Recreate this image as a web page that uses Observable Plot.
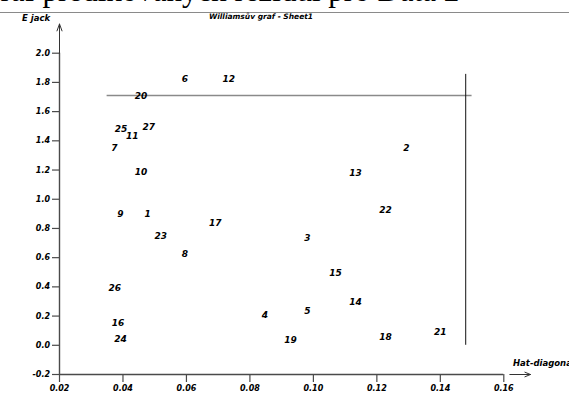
<!DOCTYPE html>
<html>
<head>
<meta charset="utf-8">
<script src="https://cdn.jsdelivr.net/npm/d3@7"></script>
<script src="https://cdn.jsdelivr.net/npm/@observablehq/plot@0.6"></script>
<style>
  html, body { margin: 0; padding: 0; background: white; }
  #wrap { position: relative; width: 569px; height: 394px; overflow: hidden; background: white; }
  #wrap svg { position: absolute; left: 0; top: 0; }
  .lab { position: absolute; font-family: "DejaVu Sans", sans-serif; font-weight: bold; font-style: italic; white-space: nowrap; color: black; line-height: 1; }
  #bigtitle { position: absolute; left: -22px; top: -25px; font-family: "Liberation Serif", "Times New Roman", serif; font-size: 31px; line-height: 31px; white-space: nowrap; color: black; }
  #topline { position: absolute; left: 0; top: 11.5px; width: 569px; height: 1px; background: #8a8a8a; }
</style>
</head>
<body>
<div id="wrap"></div>
<script>
// Point ids and values (Hat-diagonal, E jack)
const ids = [1,2,3,4,5,6,7,8,9,10,11,12,13,14,15,16,17,18,19,20,21,22,23,24,25,26,27];
const hat = [0.0478,0.1293,0.0981,0.0847,0.0981,0.0595,0.0373,0.0595,0.0392,0.0457,0.0429,0.0733,0.1133,0.1133,0.1070,0.0384,0.0691,0.1227,0.0928,0.0457,0.1400,0.1227,0.0519,0.0392,0.0394,0.0374,0.0481];
const ejack = [0.896,1.353,0.733,0.207,0.232,1.824,1.353,0.623,0.900,1.187,1.435,1.824,1.180,0.293,0.494,0.155,0.837,0.055,0.034,1.705,0.093,0.926,0.748,0.039,1.480,0.389,1.497];
// Axis ticks
const xTicks = [0.02,0.04,0.06,0.08,0.10,0.12,0.14,0.16];
const yTicks = [-0.2,0.0,0.2,0.4,0.6,0.8,1.0,1.2,1.4,1.6,1.8,2.0];
// Critical limits
const tLimit = [{y: 1.71, x1: 0.035, x2: 0.150}];
const hLimit = [{x: 0.148, y1: 0.0, y2: 1.855}];
// Axis arrows
const yArrow = [{x1: 0.02, y1: 2.0, x2: 0.02, y2: 2.2}];
const xArrow = [{x1: 0.1619, y1: -0.2, x2: 0.1684, y2: -0.2}];

const points = ids.map((id, i) => ({id: String(id), x: hat[i], y: ejack[i]}));

const axisStroke = "#4a4a4a";
const chart = Plot.plot({
  width: 569,
  height: 394,
  marginLeft: 59,
  marginRight: 65.7,
  marginTop: 52.7,
  marginBottom: 20,
  x: {domain: [0.02, 0.16]},
  y: {domain: [-0.2, 2.0]},
  style: {fontFamily: "DejaVu Sans, sans-serif", background: "transparent", overflow: "visible"},
  marks: [
    Plot.ruleY(tLimit, {y: "y", x1: "x1", x2: "x2", stroke: "#8a8a8a", strokeWidth: 1.6}),
    Plot.ruleX(hLimit, {x: "x", y1: "y1", y2: "y2", stroke: "#111", strokeWidth: 1}),
    Plot.axisX(xTicks, {tickSize: 8, tickPadding: 3, tickFormat: d => d.toFixed(2), fontSize: 8, fontWeight: "bold", fontStyle: "italic", stroke: axisStroke, strokeWidth: 1.2, fill: "black", label: null}),
    Plot.axisY(yTicks, {tickSize: 7, tickPadding: 2.5, tickFormat: d => d.toFixed(1), fontSize: 8, fontWeight: "bold", fontStyle: "italic", stroke: axisStroke, strokeWidth: 1.2, fill: "black", label: null}),
    Plot.ruleY([-0.2], {x1: 0.02, x2: 0.16, stroke: axisStroke, strokeWidth: 1.4}),
    Plot.ruleX([0.02], {y1: -0.2, y2: 2.0, stroke: axisStroke, strokeWidth: 1.4}),
    Plot.arrow(yArrow, {x1: "x1", y1: "y1", x2: "x2", y2: "y2", headLength: 11, headAngle: 40, stroke: "#333", strokeWidth: 1}),
    Plot.arrow(xArrow, {x1: "x1", y1: "y1", x2: "x2", y2: "y2", headLength: 9, headAngle: 45, stroke: "#333", strokeWidth: 1}),
    Plot.text(points, {x: "x", y: "y", text: "id", fontSize: 9, fontWeight: "bold", fontStyle: "italic", fill: "black"})
  ]
});

const wrap = document.getElementById("wrap");
wrap.appendChild(chart);

function addLabel(text, style) {
  const d = document.createElement("div");
  d.className = "lab";
  d.textContent = text;
  Object.assign(d.style, style);
  wrap.appendChild(d);
  return d;
}
const big = document.createElement("div");
big.id = "bigtitle";
big.textContent = "Graf predikovaných reziduí pro Data 2";
wrap.appendChild(big);
const line = document.createElement("div");
line.id = "topline";
wrap.appendChild(line);
addLabel("Williamsův graf - Sheet1", {fontSize: "7.5px", top: "12.5px", left: "261px", transform: "translateX(-50%)"});
addLabel("E jack", {fontSize: "8.5px", top: "14px", left: "22px"});
addLabel("Hat-diagonal", {fontSize: "8.5px", top: "359px", left: "513px"});
</script>
</body>
</html>
